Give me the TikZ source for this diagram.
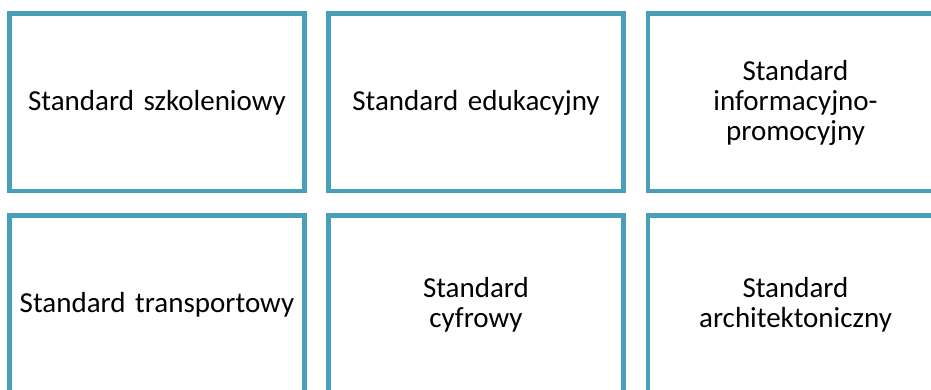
\documentclass[tikz,border=0pt]{standalone}
\usepackage{fontspec}
\setmainfont{Carlito}
\definecolor{boxc}{RGB}{72,160,184}
\begin{document}
\begin{tikzpicture}[x=1pt,y=-1pt,
  stdbox/.style={draw=boxc,line width=4.5pt,rectangle,minimum width=295pt,minimum height=177.5pt,
    text width=290pt,align=center,inner sep=0pt,font=\fontsize{29}{30}\selectfont,anchor=center}]
\useasboundingbox (0,0) rectangle (931,390);
\clip (0,0) rectangle (931,390);
\node[stdbox] (a) at (157,102.5) {Standard szkoleniowy};
\node[stdbox] (b) at (476,102.5) {Standard edukacyjny};
\node[stdbox] (c) at (795.5,102.5) {Standard\\informacyjno-\\promocyjny};
\node[stdbox] (d) at (157,304.3) {Standard transportowy};
\node[stdbox] (e) at (476,304.3) {Standard\\cyfrowy};
\node[stdbox] (f) at (795.5,304.3) {Standard\\architektoniczny};
\end{tikzpicture}
\end{document}
